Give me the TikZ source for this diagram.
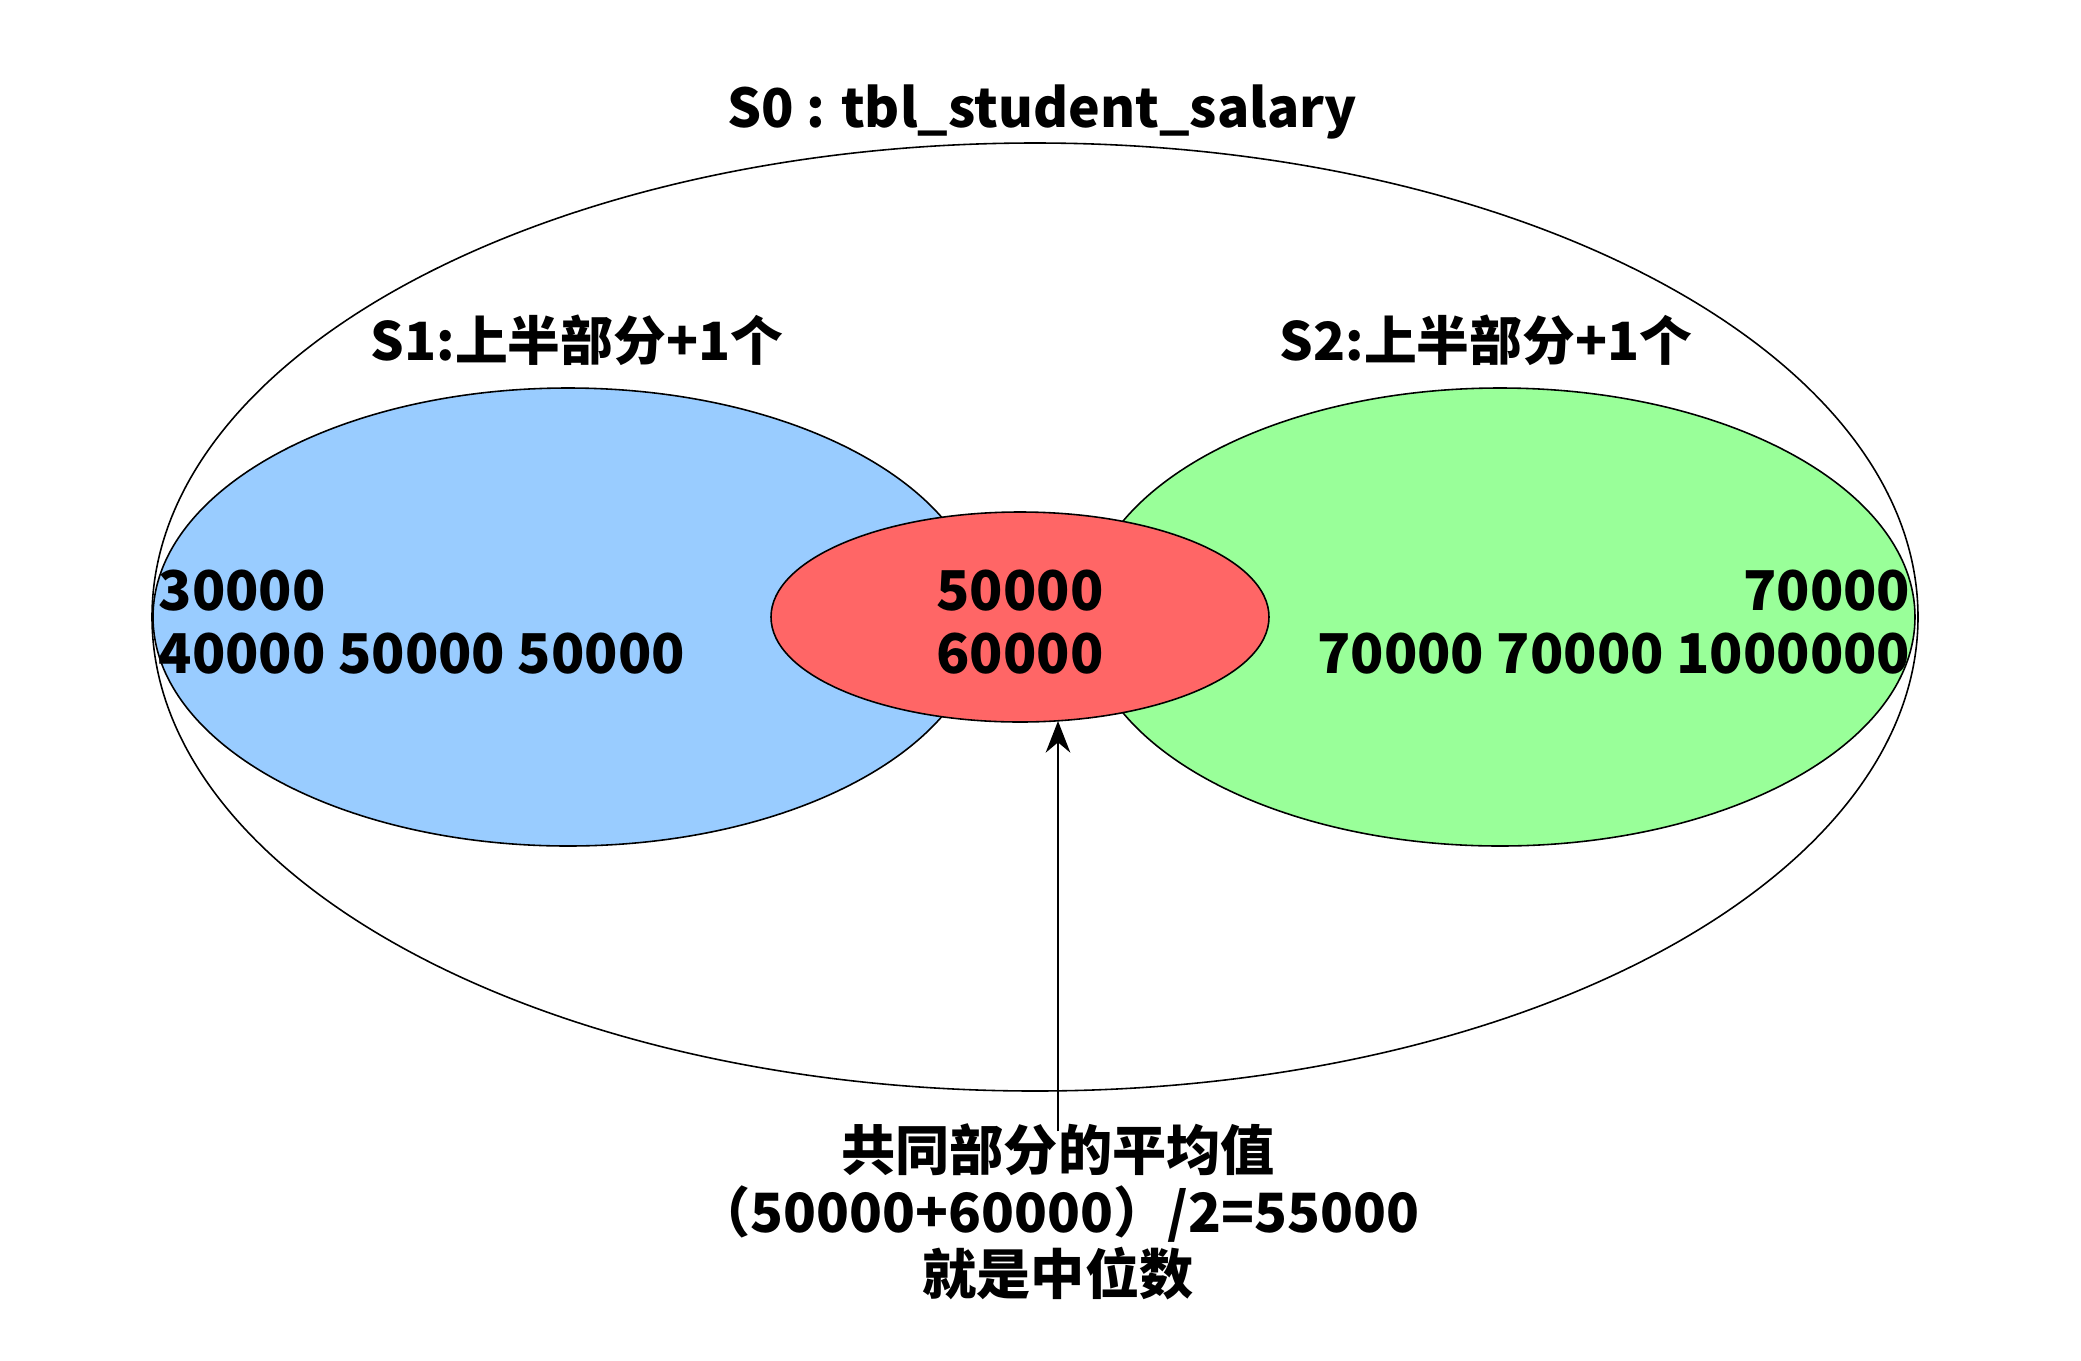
\documentclass[tikz,border=0pt]{standalone}
\usepackage{fontspec}
\setmainfont{Noto Sans CJK SC}
\usetikzlibrary{arrows.meta}
\definecolor{sblue}{HTML}{99CCFF}
\definecolor{sgreen}{HTML}{99FF99}
\definecolor{sred}{HTML}{FF6666}
\tikzset{
  setellipse/.style={draw=black, line width=0.45pt},
  lbl/.style={font=\bfseries\fontsize{15}{18}\selectfont, inner sep=0pt},
  num/.style={font=\bfseries\fontsize{15.6}{18}\selectfont, inner sep=0pt, align=#1},
}
\begin{document}
\begin{tikzpicture}[x=0.01cm, y=-0.01cm]
\useasboundingbox (0,0) rectangle (2081,1360);
% outer set
\draw[setellipse] (1035,617) ellipse [x radius=883, y radius=474];
\coordinate (outer) at (1035,617);
% S1 and S2
\draw[setellipse, fill=sblue] (568,617) ellipse [x radius=415, y radius=229];
\draw[setellipse, fill=sgreen] (1500,617) ellipse [x radius=415, y radius=229];
% common
\draw[setellipse, fill=sred] (1020,617) ellipse [x radius=249, y radius=105];
\coordinate (redbottom) at (1058,721);
% labels
\node[lbl, font=\bfseries\fontsize{15.2}{18}\selectfont] (s0) at (1042,112) {S0 : tbl\_student\_salary};
\node[lbl] (s1) at (577,340) {S1:上半部分+1个};
\node[lbl] (s2) at (1486,340) {S2:上半部分+1个};
% numbers
\node[num=left, anchor=west] (left) at (158,622) {30000\\40000 50000 50000};
\node[num=right, anchor=east] (right) at (1911,622) {70000\\70000 70000 1000000};
\node[num=center] (mid) at (1020,622) {50000\\60000};
% bottom note
\node[lbl, align=center, font=\bfseries\fontsize{15.4}{17.6}\selectfont] (note) at (1058,1212) {共同部分的平均值\\（50000+60000）/2=55000\\就是中位数};
\draw[-{Stealth[length=9pt,width=7pt]}, line width=0.5pt] (note.north) ++(0,8) coordinate (nstart) -- (redbottom);
\end{tikzpicture}
\end{document}
